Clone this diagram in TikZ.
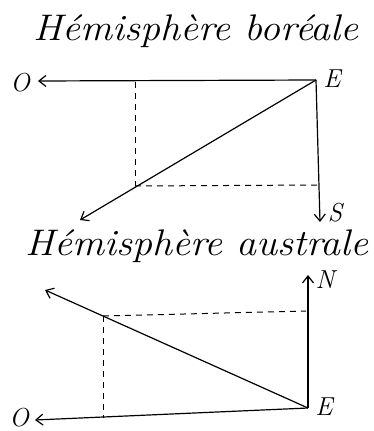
\documentclass[tikz,border=0pt]{standalone}
\usepackage{fontspec}
\usetikzlibrary{arrows.meta}
\begin{document}
\begin{tikzpicture}[x=1pt,y=-1pt,
  vec/.style={line width=1.2pt,-{Straight Barb[length=7pt,width=11pt,line width=1.2pt]}},
  dsh/.style={line width=1pt,dash pattern=on 6pt off 5pt},
  lbl/.style={font=\fontsize{26}{26}\selectfont\itshape,inner sep=0pt},
  ttl/.style={font=\fontsize{37}{37}\selectfont\itshape,inner sep=0pt,xscale=1.08}]
\useasboundingbox (0,0) rectangle (374,431);
% top
\node[ttl] (t1) at (196,31) {Hémisphère boréale};
\coordinate (E1) at (316,80);
\coordinate (O1) at (38,81);
\coordinate (S1) at (320,222);
\coordinate (D1) at (80,220);
\coordinate (P1) at (135,82);
\coordinate (Q1) at (135,186);
\coordinate (R1) at (318,185);
\node[lbl] (lO1) at (20,83) {O};
\node[lbl] (lE1) at (332,79) {E};
\node[lbl] (lS1) at (335,213) {S};
\draw[vec] (E1) -- (O1);
\draw[vec] (E1) -- (S1);
\draw[vec] (E1) -- (D1);
\draw[dsh] (P1) -- (Q1);
\draw[dsh] (Q1) -- (R1);
% bottom
\node[ttl] (t2) at (197,246) {Hémisphère australe};
\coordinate (E2) at (308,408);
\coordinate (N2) at (308,275);
\coordinate (O2) at (35,420);
\coordinate (D2) at (45,290);
\coordinate (P2) at (103,316);
\coordinate (Q2) at (306,311);
\coordinate (R2) at (103,418);
\node[lbl] (lN2) at (325,280) {N};
\node[lbl] (lE2) at (324,407) {E};
\node[lbl] (lO2) at (19,418) {O};
\draw[vec] (E2) -- (N2);
\draw[vec] (E2) -- (O2);
\draw[vec] (E2) -- (D2);
\draw[dsh] (P2) -- (Q2);
\draw[dsh] (P2) -- (R2);
\end{tikzpicture}
\end{document}
